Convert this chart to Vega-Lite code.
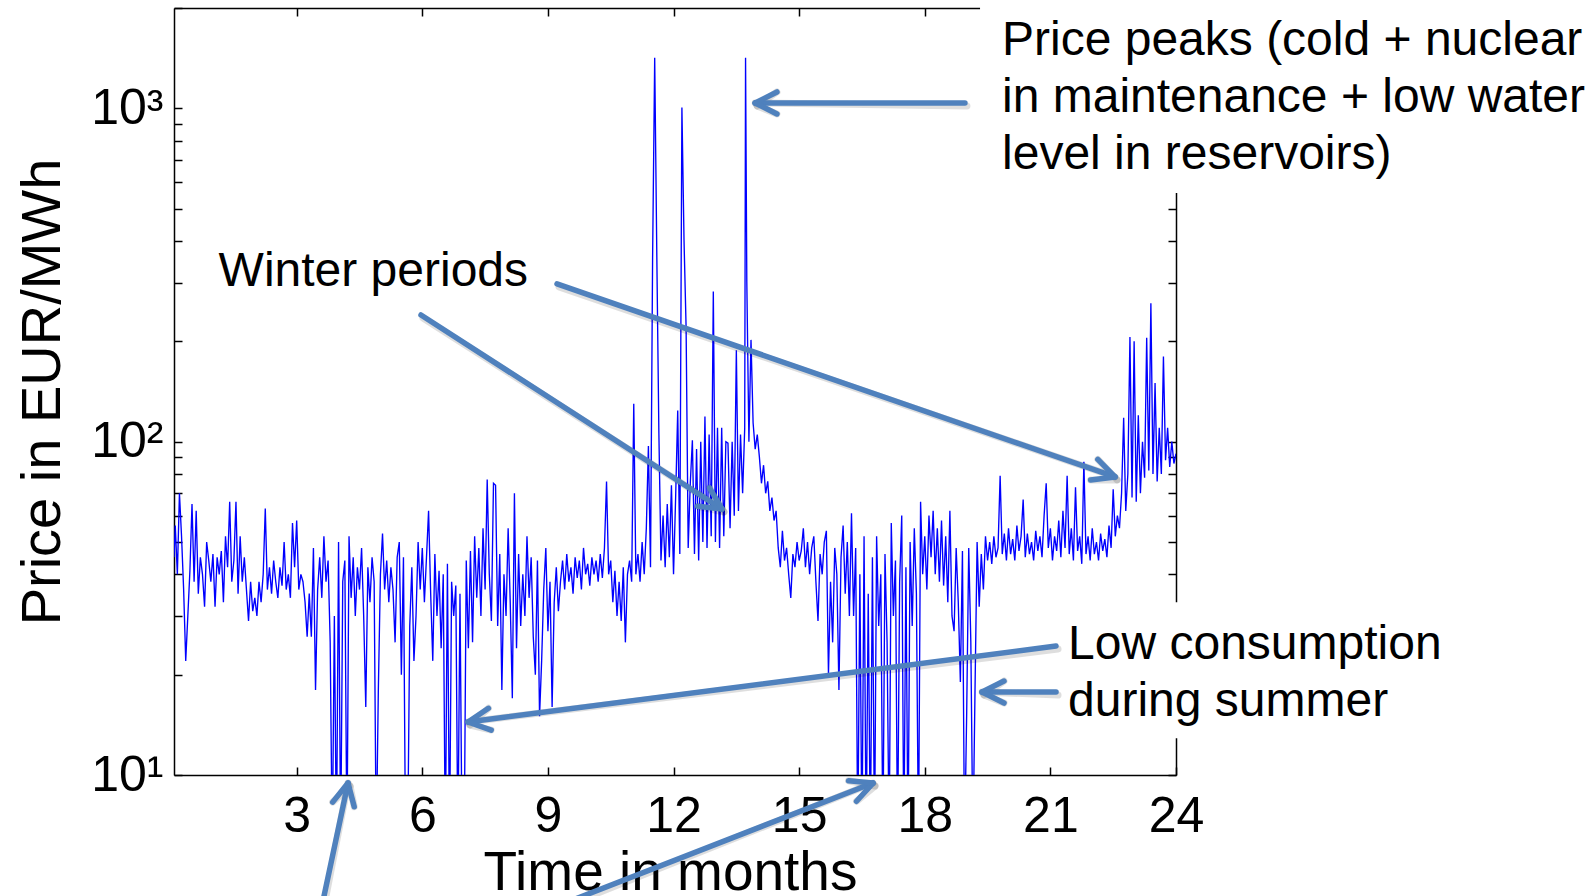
{
  "$schema": "https://vega.github.io/schema/vega-lite/v6.json",
  "width": 1002,
  "height": 767,
  "autosize": {"type": "none"},
  "padding": {"left": 174, "top": 8, "right": 418, "bottom": 121},
  "background": "white",
  "config": {"view": {"stroke": null}, "font": "Liberation Sans", "axis": {"zindex": 0, "grid": false}},
  "datasets": {
    "price": [
      {"t":0.07,"p":45},{"t":0.1,"p":56},{"t":0.15,"p":40},{"t":0.2,"p":70},{"t":0.25,"p":52},{"t":0.3,"p":36},{"t":0.35,"p":22},{"t":0.4,"p":30},{"t":0.45,"p":41},
      {"t":0.5,"p":65},{"t":0.55,"p":38},{"t":0.6,"p":62},{"t":0.65,"p":35},{"t":0.7,"p":45},{"t":0.75,"p":40},{"t":0.8,"p":32},{"t":0.85,"p":50},{"t":0.9,"p":44},{"t":0.95,"p":38},
      {"t":1.0,"p":46},{"t":1.05,"p":32},{"t":1.1,"p":45},{"t":1.15,"p":40},{"t":1.2,"p":47},{"t":1.25,"p":33},{"t":1.3,"p":52},{"t":1.35,"p":42},{"t":1.4,"p":66},{"t":1.45,"p":38},
      {"t":1.5,"p":44},{"t":1.55,"p":66},{"t":1.6,"p":35},{"t":1.65,"p":52},{"t":1.7,"p":38},{"t":1.75,"p":45},{"t":1.8,"p":36},{"t":1.85,"p":29},{"t":1.9,"p":38},{"t":1.95,"p":31},
      {"t":2.0,"p":34},{"t":2.05,"p":30},{"t":2.1,"p":38},{"t":2.15,"p":33},{"t":2.2,"p":40},{"t":2.25,"p":63},{"t":2.3,"p":36},{"t":2.35,"p":42},{"t":2.4,"p":35},{"t":2.45,"p":44},
      {"t":2.5,"p":38},{"t":2.55,"p":34},{"t":2.6,"p":42},{"t":2.65,"p":37},{"t":2.7,"p":50},{"t":2.75,"p":36},{"t":2.8,"p":40},{"t":2.85,"p":34},{"t":2.9,"p":57},{"t":2.95,"p":42},
      {"t":3.0,"p":58},{"t":3.05,"p":36},{"t":3.1,"p":40},{"t":3.15,"p":38},{"t":3.2,"p":33},{"t":3.25,"p":26},{"t":3.3,"p":35},{"t":3.35,"p":26},{"t":3.4,"p":48},{"t":3.45,"p":18},
      {"t":3.5,"p":36},{"t":3.55,"p":45},{"t":3.6,"p":34},{"t":3.65,"p":52},{"t":3.7,"p":38},{"t":3.75,"p":44},{"t":3.8,"p":25},{"t":3.85,"p":6},{"t":3.9,"p":30},{"t":3.95,"p":6},
      {"t":4.0,"p":50},{"t":4.05,"p":6},{"t":4.1,"p":38},{"t":4.15,"p":44},{"t":4.2,"p":6},{"t":4.25,"p":52},{"t":4.3,"p":34},{"t":4.35,"p":45},{"t":4.4,"p":30},{"t":4.45,"p":42},
      {"t":4.5,"p":36},{"t":4.55,"p":48},{"t":4.6,"p":30},{"t":4.65,"p":16},{"t":4.7,"p":42},{"t":4.75,"p":33},{"t":4.8,"p":45},{"t":4.85,"p":38},{"t":4.9,"p":6},{"t":4.95,"p":18},
      {"t":5.0,"p":40},{"t":5.05,"p":53},{"t":5.1,"p":36},{"t":5.15,"p":44},{"t":5.2,"p":33},{"t":5.25,"p":42},{"t":5.3,"p":36},{"t":5.35,"p":25},{"t":5.4,"p":45},{"t":5.45,"p":50},
      {"t":5.5,"p":20},{"t":5.55,"p":45},{"t":5.6,"p":6},{"t":5.65,"p":6},{"t":5.7,"p":28},{"t":5.75,"p":42},{"t":5.8,"p":22},{"t":5.85,"p":30},{"t":5.9,"p":50},{"t":5.95,"p":36},
      {"t":6.0,"p":48},{"t":6.05,"p":33},{"t":6.1,"p":45},{"t":6.15,"p":62},{"t":6.2,"p":35},{"t":6.25,"p":22},{"t":6.3,"p":46},{"t":6.35,"p":30},{"t":6.4,"p":41},{"t":6.45,"p":24},
      {"t":6.5,"p":40},{"t":6.55,"p":6},{"t":6.6,"p":43},{"t":6.65,"p":6},{"t":6.7,"p":38},{"t":6.75,"p":30},{"t":6.8,"p":37},{"t":6.85,"p":6},{"t":6.9,"p":35},{"t":6.95,"p":6},
      {"t":7.0,"p":6},{"t":7.05,"p":44},{"t":7.1,"p":24},{"t":7.15,"p":47},{"t":7.2,"p":25},{"t":7.25,"p":52},{"t":7.3,"p":34},{"t":7.35,"p":48},{"t":7.4,"p":30},{"t":7.45,"p":55},
      {"t":7.5,"p":36},{"t":7.55,"p":77},{"t":7.6,"p":40},{"t":7.65,"p":29},{"t":7.7,"p":75},{"t":7.75,"p":74},{"t":7.8,"p":28},{"t":7.85,"p":46},{"t":7.9,"p":18},{"t":7.95,"p":40},
      {"t":8.0,"p":30},{"t":8.05,"p":55},{"t":8.1,"p":33},{"t":8.15,"p":17},{"t":8.2,"p":70},{"t":8.25,"p":24},{"t":8.3,"p":46},{"t":8.35,"p":28},{"t":8.4,"p":40},{"t":8.45,"p":30},
      {"t":8.5,"p":52},{"t":8.55,"p":34},{"t":8.6,"p":45},{"t":8.65,"p":26},{"t":8.7,"p":20},{"t":8.75,"p":44},{"t":8.8,"p":15},{"t":8.85,"p":22},{"t":8.9,"p":36},{"t":8.95,"p":48},
      {"t":9.0,"p":27},{"t":9.05,"p":38},{"t":9.1,"p":16},{"t":9.15,"p":33},{"t":9.2,"p":42},{"t":9.25,"p":31},{"t":9.3,"p":38},{"t":9.35,"p":44},{"t":9.4,"p":36},{"t":9.45,"p":46},
      {"t":9.5,"p":38},{"t":9.55,"p":42},{"t":9.6,"p":35},{"t":9.65,"p":45},{"t":9.7,"p":39},{"t":9.75,"p":44},{"t":9.8,"p":36},{"t":9.85,"p":48},{"t":9.9,"p":40},{"t":9.95,"p":43},
      {"t":10.0,"p":37},{"t":10.05,"p":45},{"t":10.1,"p":40},{"t":10.15,"p":44},{"t":10.2,"p":38},{"t":10.25,"p":46},{"t":10.3,"p":39},{"t":10.35,"p":48},{"t":10.4,"p":76},{"t":10.45,"p":40},
      {"t":10.5,"p":44},{"t":10.55,"p":33},{"t":10.6,"p":41},{"t":10.65,"p":30},{"t":10.7,"p":38},{"t":10.75,"p":29},{"t":10.8,"p":42},{"t":10.85,"p":25},{"t":10.9,"p":40},{"t":10.95,"p":44},
      {"t":11.0,"p":38},{"t":11.05,"p":130},{"t":11.1,"p":40},{"t":11.15,"p":46},{"t":11.2,"p":38},{"t":11.25,"p":50},{"t":11.3,"p":40},{"t":11.35,"p":55},{"t":11.4,"p":97},{"t":11.45,"p":42},
      {"t":11.5,"p":356},{"t":11.55,"p":1419},{"t":11.6,"p":368},{"t":11.65,"p":106},{"t":11.7,"p":44},{"t":11.75,"p":60},{"t":11.8,"p":42},{"t":11.85,"p":65},{"t":11.9,"p":45},{"t":11.95,"p":74},
      {"t":12.0,"p":40},{"t":12.05,"p":68},{"t":12.1,"p":124},{"t":12.15,"p":46},{"t":12.2,"p":1005},{"t":12.25,"p":404},{"t":12.3,"p":220},{"t":12.35,"p":48},{"t":12.4,"p":75},{"t":12.45,"p":101},
      {"t":12.5,"p":46},{"t":12.55,"p":95},{"t":12.6,"p":44},{"t":12.65,"p":100},{"t":12.7,"p":50},{"t":12.75,"p":119},{"t":12.8,"p":48},{"t":12.85,"p":105},{"t":12.9,"p":52},{"t":12.95,"p":282},
      {"t":13.0,"p":50},{"t":13.05,"p":110},{"t":13.1,"p":48},{"t":13.15,"p":110},{"t":13.2,"p":52},{"t":13.25,"p":100},{"t":13.3,"p":99},{"t":13.35,"p":55},{"t":13.4,"p":100},{"t":13.45,"p":60},
      {"t":13.5,"p":188},{"t":13.55,"p":62},{"t":13.6,"p":105},{"t":13.65,"p":70},{"t":13.7,"p":110},{"t":13.72,"p":1419},{"t":13.75,"p":302},{"t":13.8,"p":100},{"t":13.85,"p":202},{"t":13.9,"p":114},
      {"t":13.95,"p":95},{"t":14.0,"p":105},{"t":14.05,"p":90},{"t":14.1,"p":75},{"t":14.15,"p":85},{"t":14.2,"p":70},{"t":14.25,"p":76},{"t":14.3,"p":62},{"t":14.35,"p":68},{"t":14.4,"p":58},
      {"t":14.45,"p":62},{"t":14.5,"p":48},{"t":14.55,"p":42},{"t":14.6,"p":54},{"t":14.65,"p":44},{"t":14.7,"p":48},{"t":14.75,"p":40},{"t":14.8,"p":34},{"t":14.85,"p":46},{"t":14.9,"p":42},
      {"t":14.95,"p":50},{"t":15.0,"p":44},{"t":15.05,"p":47},{"t":15.1,"p":55},{"t":15.15,"p":42},{"t":15.2,"p":50},{"t":15.25,"p":40},{"t":15.3,"p":48},{"t":15.35,"p":52},{"t":15.4,"p":38},
      {"t":15.45,"p":29},{"t":15.5,"p":46},{"t":15.55,"p":40},{"t":15.6,"p":50},{"t":15.65,"p":54},{"t":15.7,"p":20},{"t":15.75,"p":38},{"t":15.8,"p":25},{"t":15.85,"p":48},{"t":15.9,"p":40},
      {"t":15.95,"p":18},{"t":16.0,"p":45},{"t":16.05,"p":56},{"t":16.1,"p":35},{"t":16.15,"p":50},{"t":16.2,"p":30},{"t":16.25,"p":61},{"t":16.3,"p":30},{"t":16.35,"p":48},{"t":16.4,"p":6},
      {"t":16.45,"p":40},{"t":16.5,"p":6},{"t":16.55,"p":52},{"t":16.6,"p":6},{"t":16.65,"p":35},{"t":16.7,"p":6},{"t":16.75,"p":45},{"t":16.8,"p":6},{"t":16.85,"p":52},{"t":16.9,"p":28},
      {"t":16.95,"p":40},{"t":17.0,"p":6},{"t":17.05,"p":46},{"t":17.1,"p":25},{"t":17.15,"p":6},{"t":17.2,"p":57},{"t":17.25,"p":30},{"t":17.3,"p":44},{"t":17.35,"p":6},{"t":17.4,"p":38},
      {"t":17.45,"p":60},{"t":17.5,"p":6},{"t":17.55,"p":42},{"t":17.6,"p":6},{"t":17.65,"p":50},{"t":17.7,"p":28},{"t":17.75,"p":55},{"t":17.8,"p":35},{"t":17.85,"p":6},{"t":17.9,"p":66},
      {"t":17.95,"p":40},{"t":18.0,"p":52},{"t":18.05,"p":36},{"t":18.1,"p":60},{"t":18.15,"p":45},{"t":18.2,"p":62},{"t":18.25,"p":40},{"t":18.3,"p":55},{"t":18.35,"p":38},{"t":18.4,"p":58},
      {"t":18.45,"p":37},{"t":18.5,"p":52},{"t":18.55,"p":33},{"t":18.6,"p":62},{"t":18.65,"p":30},{"t":18.7,"p":27},{"t":18.75,"p":48},{"t":18.8,"p":33},{"t":18.85,"p":19},{"t":18.9,"p":47},
      {"t":18.95,"p":6},{"t":19.0,"p":15},{"t":19.05,"p":48},{"t":19.1,"p":25},{"t":19.15,"p":6},{"t":19.2,"p":18},{"t":19.25,"p":50},{"t":19.3,"p":32},{"t":19.35,"p":46},{"t":19.4,"p":36},
      {"t":19.45,"p":52},{"t":19.5,"p":44},{"t":19.55,"p":50},{"t":19.6,"p":43},{"t":19.65,"p":52},{"t":19.7,"p":45},{"t":19.75,"p":48},{"t":19.8,"p":79},{"t":19.85,"p":46},{"t":19.9,"p":53},
      {"t":19.95,"p":44},{"t":20.0,"p":55},{"t":20.05,"p":46},{"t":20.1,"p":51},{"t":20.15,"p":44},{"t":20.2,"p":56},{"t":20.25,"p":47},{"t":20.3,"p":52},{"t":20.35,"p":67},{"t":20.4,"p":45},
      {"t":20.45,"p":53},{"t":20.5,"p":46},{"t":20.55,"p":50},{"t":20.6,"p":44},{"t":20.65,"p":54},{"t":20.7,"p":47},{"t":20.75,"p":52},{"t":20.8,"p":45},{"t":20.85,"p":60},{"t":20.9,"p":75},
      {"t":20.95,"p":48},{"t":21.0,"p":55},{"t":21.05,"p":44},{"t":21.1,"p":52},{"t":21.15,"p":47},{"t":21.2,"p":58},{"t":21.25,"p":45},{"t":21.3,"p":62},{"t":21.35,"p":48},{"t":21.4,"p":79},
      {"t":21.45,"p":46},{"t":21.5,"p":55},{"t":21.55,"p":44},{"t":21.6,"p":73},{"t":21.65,"p":47},{"t":21.7,"p":52},{"t":21.75,"p":43},{"t":21.8,"p":87},{"t":21.85,"p":46},{"t":21.9,"p":52},
      {"t":21.95,"p":44},{"t":22.0,"p":55},{"t":22.05,"p":46},{"t":22.1,"p":50},{"t":22.15,"p":44},{"t":22.2,"p":53},{"t":22.25,"p":47},{"t":22.3,"p":51},{"t":22.35,"p":45},{"t":22.4,"p":56},
      {"t":22.45,"p":48},{"t":22.5,"p":72},{"t":22.55,"p":52},{"t":22.6,"p":60},{"t":22.65,"p":55},{"t":22.7,"p":70},{"t":22.75,"p":118},{"t":22.8,"p":62},{"t":22.85,"p":80},{"t":22.9,"p":206},
      {"t":22.95,"p":68},{"t":23.0,"p":200},{"t":23.05,"p":66},{"t":23.1,"p":120},{"t":23.15,"p":70},{"t":23.2,"p":100},{"t":23.25,"p":78},{"t":23.3,"p":205},{"t":23.35,"p":82},{"t":23.4,"p":260},
      {"t":23.45,"p":80},{"t":23.5,"p":150},{"t":23.55,"p":76},{"t":23.6,"p":110},{"t":23.65,"p":80},{"t":23.7,"p":180},{"t":23.75,"p":88},{"t":23.8,"p":110},{"t":23.85,"p":84},{"t":23.9,"p":100},
      {"t":23.95,"p":86},{"t":24.0,"p":92}
    ],
    "boxes": [
      {"x": 19.32, "x2": 30, "y": 557, "y2": 5000},
      {"x": 21.28, "x2": 30, "y": 12.9, "y2": 33.0}
    ],
    "arrows": [
      {"x": 18.96, "y": 1038, "x2": 13.95, "y2": 1038},
      {"x": 13.95, "y": 1038, "x2": 14.47, "y2": 1120},
      {"x": 13.95, "y": 1038, "x2": 14.47, "y2": 962},
      {"x": 5.969, "y": 239.9, "x2": 13.158, "y2": 62.8},
      {"x": 13.158, "y": 62.8, "x2": 12.573, "y2": 64.0},
      {"x": 13.158, "y": 62.8, "x2": 12.86, "y2": 72.7},
      {"x": 9.217, "y": 297.3, "x2": 22.544, "y2": 78.4},
      {"x": 22.544, "y": 78.4, "x2": 21.961, "y2": 76.7},
      {"x": 22.544, "y": 78.4, "x2": 22.133, "y2": 88.5},
      {"x": 21.135, "y": 24.38, "x2": 7.092, "y2": 14.42},
      {"x": 7.092, "y": 14.42, "x2": 7.579, "y2": 15.85},
      {"x": 7.092, "y": 14.42, "x2": 7.646, "y2": 13.64},
      {"x": 21.135, "y": 17.74, "x2": 19.368, "y2": 17.74},
      {"x": 19.368, "y": 17.74, "x2": 19.893, "y2": 19.14},
      {"x": 19.368, "y": 17.74, "x2": 19.893, "y2": 16.44},
      {"x": 3.481, "y": 3.43, "x2": 4.226, "y2": 9.46},
      {"x": 4.226, "y": 9.46, "x2": 4.374, "y2": 8.03},
      {"x": 4.226, "y": 9.46, "x2": 3.86, "y2": 8.29},
      {"x": 7.761, "y": 3.43, "x2": 16.764, "y2": 9.46},
      {"x": 16.764, "y": 9.46, "x2": 16.37, "y2": 8.34},
      {"x": 16.764, "y": 9.46, "x2": 16.179, "y2": 9.61}
    ],
    "notes": [
      {"x": 19.845, "y": 1446, "label": "Price peaks (cold + nuclear\nin maintenance + low water\nlevel in reservoirs)"},
      {"x": 1.135, "y": 293, "label": "Winter periods"},
      {"x": 21.422, "y": 22.28, "label": "Low consumption\nduring summer"}
    ]
  },
  "resolve": {"axis": {"x": "independent", "y": "independent"}},
  "layer": [
    {
      "data": {"name": "price"},
      "mark": {"type": "line", "color": "#0000FF", "strokeWidth": 1.35, "clip": true},
      "encoding": {
        "x": {"field": "t", "type": "quantitative",
          "scale": {"domain": [0.07, 24], "nice": false, "zero": false},
          "axis": {"orient": "bottom", "values": [3, 6, 9, 12, 15, 18, 21, 24], "format": "d",
            "labelFontSize": 50, "labelFont": "Liberation Sans", "labelColor": "#000", "labelBaseline": "alphabetic",
            "labelPadding": 64, "labelFlush": false, "labelOverlap": false,
            "tickSize": -8, "tickColor": "#000", "tickWidth": 1.5, "domainColor": "#000", "domainWidth": 1.5,
            "title": "Time in months", "titleFontSize": 55, "titleFont": "Liberation Sans", "titleFontWeight": "normal",
            "titleColor": "#000", "titleX": 496, "titleY": 114, "titleBaseline": "alphabetic", "titleAlign": "center", "zindex": 0}},
        "y": {"field": "p", "type": "quantitative",
          "scale": {"type": "log", "domain": [10, 2000], "nice": false},
          "axis": {"orient": "left", "values": [10, 20, 30, 40, 50, 60, 70, 80, 90, 100, 200, 300, 400, 500, 600, 700, 800, 900, 1000, 2000],
            "labelExpr": "datum.value == 10 ? '10\u00b9' : datum.value == 100 ? '10\u00b2' : datum.value == 1000 ? '10\u00b3' : ''",
            "labelFontSize": 50, "labelFont": "Liberation Sans", "labelColor": "#000", "labelBaseline": "middle", "labelAlign": "right",
            "labelPadding": 19, "labelOverlap": false,
            "tickSize": -8, "tickColor": "#000", "tickWidth": 1.5, "domainColor": "#000", "domainWidth": 1.5,
            "title": "Price in EUR/MWh", "titleFontSize": 56, "titleFont": "Liberation Sans", "titleFontWeight": "normal",
            "titleColor": "#000", "titleAngle": 270, "titleX": -115, "titleY": 383.5, "titleBaseline": "alphabetic", "titleAlign": "center", "zindex": 0}}
      }
    },
    {
      "data": {"name": "boxes"},
      "mark": {"type": "rect", "fill": "white", "stroke": null},
      "encoding": {
        "x": {"field": "x", "type": "quantitative", "scale": {"domain": [0.07, 24], "nice": false, "zero": false},
          "axis": {"orient": "top", "values": [3, 6, 9, 12, 15, 18, 21, 24], "labels": false, "title": null,
            "tickSize": -8, "tickColor": "#000", "tickWidth": 1.5, "domainColor": "#000", "domainWidth": 1.5, "zindex": 0}},
        "x2": {"field": "x2"},
        "y": {"field": "y", "type": "quantitative", "scale": {"type": "log", "domain": [10, 2000], "nice": false},
          "axis": {"orient": "right", "values": [10, 20, 30, 40, 50, 60, 70, 80, 90, 100, 200, 300, 400, 500, 600, 700, 800, 900, 1000, 2000],
            "labels": false, "title": null,
            "tickSize": -8, "tickColor": "#000", "tickWidth": 1.5, "domainColor": "#000", "domainWidth": 1.5, "zindex": 0}},
        "y2": {"field": "y2"}
      }
    },
    {
      "data": {"name": "arrows"},
      "mark": {"type": "rule", "color": "#000000", "opacity": 0.13, "strokeWidth": 7, "strokeCap": "round", "xOffset": 2, "yOffset": 3},
      "encoding": {
        "x": {"field": "x", "type": "quantitative", "scale": {"domain": [0.07, 24], "nice": false, "zero": false}, "axis": null},
        "x2": {"field": "x2"},
        "y": {"field": "y", "type": "quantitative", "scale": {"type": "log", "domain": [10, 2000], "nice": false}, "axis": null},
        "y2": {"field": "y2"}
      }
    },
    {
      "data": {"name": "arrows"},
      "mark": {"type": "rule", "color": "#4F81BD", "strokeWidth": 5.5, "strokeCap": "round"},
      "encoding": {
        "x": {"field": "x", "type": "quantitative", "scale": {"domain": [0.07, 24], "nice": false, "zero": false}, "axis": null},
        "x2": {"field": "x2"},
        "y": {"field": "y", "type": "quantitative", "scale": {"type": "log", "domain": [10, 2000], "nice": false}, "axis": null},
        "y2": {"field": "y2"}
      }
    },
    {
      "data": {"name": "notes"},
      "mark": {"type": "text", "align": "left", "baseline": "alphabetic", "fontSize": 48, "font": "Liberation Sans",
        "color": "#000", "lineBreak": "\n", "lineHeight": 57},
      "encoding": {
        "x": {"field": "x", "type": "quantitative", "scale": {"domain": [0.07, 24], "nice": false, "zero": false}, "axis": null},
        "y": {"field": "y", "type": "quantitative", "scale": {"type": "log", "domain": [10, 2000], "nice": false}, "axis": null},
        "text": {"field": "label"}
      }
    }
  ]
}
